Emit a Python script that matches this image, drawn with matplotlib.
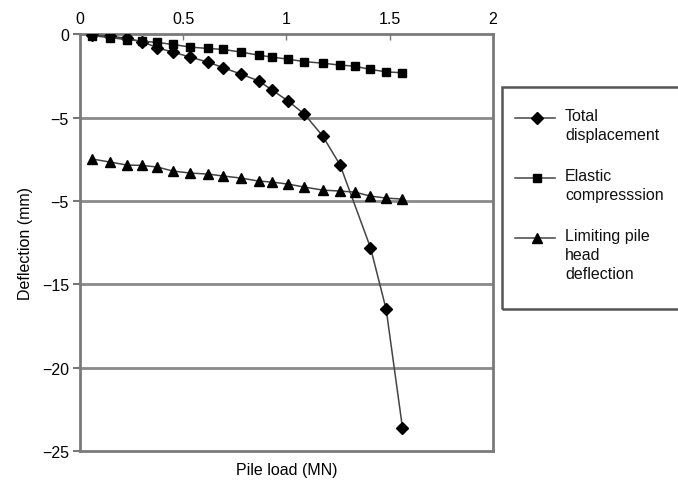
import numpy as np
import matplotlib.pyplot as plt
from matplotlib.lines import Line2D
from matplotlib.patches import Rectangle

plt.rcParams['font.family'] = ['Liberation Sans', 'DejaVu Sans']

# pile load (MN) for each test stage
load = [0.06, 0.145, 0.228, 0.30, 0.375, 0.45, 0.535, 0.62, 0.695, 0.78,
        0.865, 0.93, 1.007, 1.087, 1.175, 1.26, 1.33, 1.407, 1.483, 1.562]

# total displacement was not recorded at the 1.33 MN stage
load_total = [0.06, 0.145, 0.228, 0.30, 0.375, 0.45, 0.535, 0.62, 0.695, 0.78,
              0.865, 0.93, 1.007, 1.087, 1.175, 1.26, 1.407, 1.483, 1.562]
total_disp = [-0.05, -0.12, -0.26, -0.45, -0.82, -1.08, -1.38, -1.68, -2.02, -2.4,
              -2.8, -3.35, -4.0, -4.8, -6.1, -7.85, -12.8, -16.5, -23.6]

elastic = [-0.09, -0.21, -0.33, -0.42, -0.5, -0.62, -0.78, -0.86, -0.92, -1.08,
           -1.26, -1.38, -1.5, -1.65, -1.74, -1.86, -1.92, -2.12, -2.26, -2.32]

limiting = [-7.49, -7.67, -7.85, -7.87, -7.97, -8.21, -8.33, -8.39, -8.51, -8.63,
            -8.81, -8.87, -8.99, -9.17, -9.35, -9.41, -9.47, -9.71, -9.83, -9.89]

series_names = ['Total\ndisplacement', 'Elastic\ncompresssion', 'Limiting pile\nhead\ndeflection']
series_markers = ['D', 's', '^']

xticks = [0, 0.5, 1, 1.5, 2]
xtick_labels = ['0', '0.5', '1', '1.5', '2']
yticks = [0, -5, -10, -15, -20, -25]
ytick_labels = ['0', '\u22125', '\u22125', '\u221215', '\u221220', '\u221225']

W, H = 678, 481
fig = plt.figure(figsize=(W / 100, H / 100), dpi=100)
ax = fig.add_axes([0.118, 0.060, 0.609, 0.867])

line_c = '#444444'
msizes = {'D': 6, 's': 5.5, '^': 7}
for xs, ys, m in [(load_total, total_disp, 'D'), (load, elastic, 's'), (load, limiting, '^')]:
    ax.plot(xs, ys, color=line_c, lw=1.1, marker=m, ms=msizes[m],
            mfc='black', mec='black', zorder=3)

ax.set_xlim(0, 2)
ax.set_ylim(-25, 0)
ax.xaxis.tick_top()
ax.set_xticks(xticks)
ax.set_xticklabels(xtick_labels)
ax.set_yticks(yticks)
ax.set_yticklabels(ytick_labels)
ax.tick_params(axis='x', direction='in', length=4, width=1, color='#777777',
               labelsize=11.5, pad=6)
ax.tick_params(axis='y', direction='out', length=5, width=1.5, color='#777777',
               labelsize=11.5, pad=3)

for y in yticks[1:-1]:
    ax.axhline(y, color='#8a8a8a', lw=2, zorder=1)

for s in ax.spines.values():
    s.set_color('#7a7a7a')
    s.set_linewidth(2)

ax.set_xlabel('Pile load (MN)', fontsize=11.5, labelpad=8)
ax.set_ylabel('Deflection (mm)', fontsize=11.5, labelpad=6)

# legend box, drawn by hand so each marker sits on the first text line
fig.patches.append(Rectangle((502 / W, 1 - 310 / H), 200 / W, 222 / H,
                             transform=fig.transFigure, fill=False,
                             edgecolor='#555555', lw=1.8))
for i, (name, m) in enumerate(zip(series_names, series_markers)):
    yp = 119 + 60 * i
    yf = 1 - yp / H
    fig.lines.append(Line2D([515 / W, 555 / W], [yf, yf], transform=fig.transFigure,
                            color=line_c, lw=1.1, marker=None))
    fig.lines.append(Line2D([537 / W], [yf], transform=fig.transFigure,
                            color='black', marker=m, ms=msizes[m], ls='none'))
    fig.text(565 / W, 1 - (yp - 10) / H, name, fontsize=11.5, va='top', ha='left',
             linespacing=1.35, color='#111111')

fig.savefig('out.png', dpi=100)
